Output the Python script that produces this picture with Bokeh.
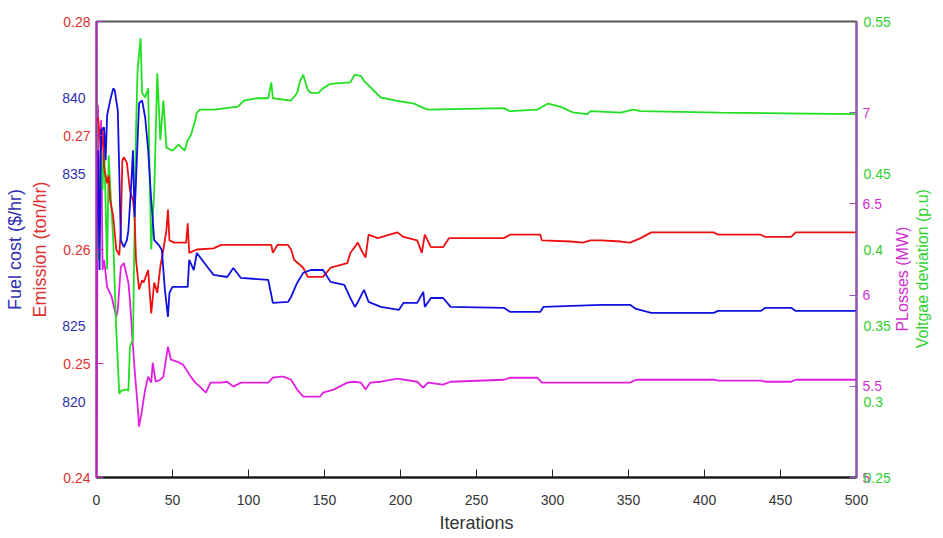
import math
from bokeh.plotting import figure
from bokeh.models import Range1d, LinearAxis, FixedTicker, CustomJSTickFormatter
from bokeh.embed import file_html
from bokeh.resources import INLINE

# ---------------- data ----------------
x_ticks = [0, 50, 100, 150, 200, 250, 300, 350, 400, 450, 500]
emission_ticks = [0.24, 0.25, 0.26, 0.27, 0.28]
fuel_ticks = [820, 825, 835, 840]
ploss_ticks = [5, 5.5, 6, 6.5, 7]
volt_ticks = [0.25, 0.3, 0.35, 0.4, 0.45, 0.55]

volt_it = [0, 1, 3, 4, 5, 7, 8, 9, 11, 13, 15, 16, 20, 21, 22, 24, 26, 27, 29, 30,
           32, 34, 35, 36, 38, 40, 42, 44, 46, 50, 54, 58, 60, 62, 65, 66, 68, 78, 85, 93,
           97, 105, 113, 115, 116, 128, 132, 134, 136, 139, 141, 146, 149, 154, 167, 170, 174, 176, 182, 187,
           197, 209, 213, 218, 268, 272, 290, 297, 305, 314, 323, 325, 345, 353, 358, 410, 500]
volt_val = [0.55, 0.393, 0.465, 0.439, 0.472, 0.387, 0.462, 0.442, 0.406, 0.347,
            0.305, 0.307, 0.308, 0.307, 0.336, 0.341, 0.478, 0.518, 0.539, 0.503,
            0.500, 0.506, 0.446, 0.400, 0.439, 0.516, 0.472, 0.498, 0.467, 0.465,
            0.469, 0.465, 0.472, 0.475, 0.485, 0.490, 0.492, 0.492, 0.493, 0.494,
            0.498, 0.4995, 0.4995, 0.510, 0.4995, 0.498, 0.503, 0.511, 0.515, 0.505,
            0.503, 0.503, 0.506, 0.509, 0.510, 0.515, 0.514, 0.511, 0.505, 0.500,
            0.498, 0.496, 0.494, 0.492, 0.493, 0.491, 0.492, 0.496, 0.494, 0.490,
            0.489, 0.491, 0.490, 0.492, 0.491, 0.490, 0.489]

em_it = [0, 1, 3, 4, 5, 7, 8, 9, 11, 13, 15, 16, 17, 18, 20, 22, 24, 25, 26, 28,
         30, 31, 34, 36, 38, 40, 42, 44, 46, 47, 48, 51, 59, 60, 61, 66, 77, 82, 115, 116,
         119, 126, 128, 130, 136, 139, 149, 154, 165, 167, 172, 174, 177, 179, 185, 198, 202, 211, 214, 216,
         220, 228, 232, 268, 272, 292, 293, 312, 320, 325, 332, 345, 351, 358, 365, 406, 409, 437, 440, 457,
         460, 500]
em_val = [0.2713, 0.2716, 0.2687, 0.2707, 0.2672, 0.2658, 0.2665, 0.2643, 0.2629, 0.2600,
          0.2595, 0.2617, 0.2678, 0.2681, 0.2676, 0.2652, 0.2643, 0.2632, 0.2591, 0.2565,
          0.2573, 0.2571, 0.2582, 0.2544, 0.2571, 0.2562, 0.2585, 0.2600, 0.2617, 0.2635,
          0.2608, 0.2606, 0.2606, 0.2623, 0.2597, 0.2600, 0.2601, 0.2604, 0.2604, 0.2597,
          0.2604, 0.2604, 0.2600, 0.2591, 0.2584, 0.2576, 0.2576, 0.2584, 0.2588, 0.2597,
          0.2606, 0.2600, 0.2593, 0.2613, 0.2610, 0.2615, 0.2611, 0.2608, 0.2597, 0.2613,
          0.2602, 0.2602, 0.2610, 0.2610, 0.2613, 0.2613, 0.2608, 0.2607, 0.2606, 0.2608,
          0.2608, 0.2607, 0.2606, 0.2610, 0.2615, 0.2615, 0.2613, 0.2613, 0.2611, 0.2611,
          0.2615, 0.2615]

fuel_it = [0, 1, 2, 3, 5, 6, 7, 9, 11, 12, 14, 15, 16, 18, 20, 21, 23, 24, 25, 26,
           28, 30, 32, 34, 36, 38, 41, 43, 45, 47, 48, 50, 60, 61, 64, 66, 73, 77, 86, 90,
           95, 113, 115, 116, 126, 128, 132, 136, 141, 149, 154, 163, 167, 170, 172, 176, 179, 187, 199, 202,
           211, 215, 216, 220, 228, 233, 268, 272, 292, 294, 332, 351, 355, 365, 406, 409, 437, 440, 457, 460,
           500]
fuel_val = [829.97, 836.53, 828.65, 837.84, 838.04, 835.87, 838.83, 839.81, 840.60, 840.47,
            839.16, 835.02, 830.62, 830.16, 830.62, 831.28, 834.56, 836.53, 832.13, 834.56,
            839.62, 839.81, 838.70, 836.53, 833.25, 830.62, 830.29, 829.97, 827.34, 825.57,
            827.14, 827.54, 827.54, 829.31, 828.65, 829.77, 828.85, 828.33, 828.19, 828.78,
            828.13, 828.00, 827.01, 826.49, 826.55, 826.88, 827.80, 828.46, 828.65, 828.65,
            827.87, 827.67, 826.81, 826.22, 826.55, 827.34, 826.55, 826.22, 826.03, 826.49,
            826.49, 827.21, 826.22, 826.81, 826.81, 826.22, 826.16, 825.90, 825.90, 826.22,
            826.36, 826.36, 826.09, 825.83, 825.83, 825.96, 825.96, 826.16, 826.16, 825.96,
            825.96]

pl_it = [0, 1, 2, 3, 4, 5, 7, 10, 13, 14, 16, 18, 21, 22, 24, 25, 27, 28, 30, 32,
         34, 36, 37, 39, 42, 44, 47, 49, 53, 57, 62, 65, 68, 72, 75, 82, 86, 90, 95, 113,
         116, 121, 123, 128, 132, 136, 147, 149, 156, 165, 169, 174, 177, 180, 187, 198, 211, 215, 218, 228,
         233, 268, 272, 290, 293, 332, 351, 355, 406, 409, 437, 440, 457, 460, 500]
pl_val = [5.044, 7.041, 6.357, 6.958, 6.138, 6.193, 6.045, 5.990, 5.881, 5.919,
          6.154, 6.176, 6.067, 5.974, 5.717, 5.60, 5.40, 5.279, 5.372, 5.482,
          5.553, 5.520, 5.629, 5.525, 5.536, 5.553, 5.717, 5.646, 5.635, 5.618,
          5.553, 5.520, 5.498, 5.465, 5.520, 5.520, 5.525, 5.498, 5.520, 5.520,
          5.547, 5.553, 5.553, 5.536, 5.482, 5.443, 5.443, 5.465, 5.482, 5.520,
          5.525, 5.520, 5.482, 5.520, 5.525, 5.542, 5.525, 5.492, 5.520, 5.509,
          5.525, 5.536, 5.547, 5.547, 5.520, 5.520, 5.520, 5.536, 5.536, 5.531,
          5.531, 5.525, 5.525, 5.536, 5.536]

titles = {
    "fuel": "Fuel cost ($/hr)",
    "emission": "Emission (ton/hr)",
    "ploss": "PLosses (MW)",
    "volt": "Voltgae deviation (p.u)",
    "x": "Iterations",
}

# ---------------- styles ----------------
FONT = "Liberation Sans"
TICK_SIZE = "14px"
TITLE_SIZE = "18px"
RTITLE_SIZE = "16px"
C_BLUE, C_RED, C_GREEN, C_MAG = "#1010e0", "#ee1010", "#20e020", "#e020e0"
L_BLUE, L_RED, L_GREEN, L_MAG = "#3030b0", "#e03030", "#30d030", "#d030d0"

fmt = CustomJSTickFormatter(code="return tick.toString();")

p = figure(width=943, height=538, output_backend="svg", toolbar_location=None,
           x_range=Range1d(0, 500), y_range=Range1d(0.24, 0.28),
           min_border_left=96, min_border_right=87, min_border_top=21, min_border_bottom=61)
p.extra_y_ranges = {"fuel": Range1d(815, 845), "ploss": Range1d(5, 7.5),
                    "volt": Range1d(0.25, 0.55)}
p.background_fill_color = "white"
p.border_fill_color = "white"
p.outline_line_color = "#555555"
p.outline_line_width = 2
p.xgrid.visible = False
p.ygrid.visible = False


def style_axis(ax, color, label_color, ticks, standoff, line=True):
    ax.ticker = FixedTicker(ticks=ticks)
    ax.formatter = fmt
    ax.minor_tick_line_color = None
    ax.major_tick_out = 0
    ax.major_tick_in = 7 if line else 0
    ax.major_tick_line_color = color if line else None
    ax.axis_line_color = color if line else None
    ax.axis_line_width = 2
    ax.major_label_text_color = label_color
    ax.major_label_text_font = FONT
    ax.major_label_text_font_size = TICK_SIZE
    ax.major_label_standoff = standoff


def axis_title(ax, text, color, standoff):
    ax.axis_label = text
    ax.axis_label_text_color = color
    ax.axis_label_text_font = FONT
    ax.axis_label_text_font_size = TITLE_SIZE
    ax.axis_label_text_font_style = "normal"
    ax.axis_label_standoff = standoff


# x axis
xa = p.xaxis[0]
xa.ticker = FixedTicker(ticks=x_ticks)
xa.minor_tick_line_color = None
xa.major_tick_out = 0
xa.major_tick_in = 8
xa.major_tick_line_color = "#222222"
xa.axis_line_color = "#111111"
xa.axis_line_width = 2
xa.major_label_text_font = FONT
xa.major_label_text_font_size = TICK_SIZE
xa.major_label_text_color = "#333333"
xa.major_label_standoff = 17
axis_title(xa, titles["x"], "#333333", 5)

# left inner: emission
em_axis = p.yaxis[0]
style_axis(em_axis, "#bb22bb", L_RED, emission_ticks, 6)
axis_title(em_axis, titles["emission"], L_RED, 10)
# left outer: fuel cost (labels pulled into the same column)
fuel_axis = LinearAxis(y_range_name="fuel")
p.add_layout(fuel_axis, "left")
style_axis(fuel_axis, L_BLUE, L_BLUE, fuel_ticks, -58, line=False)
axis_title(fuel_axis, titles["fuel"], L_BLUE, 34)

# right inner: power losses
ploss_axis = LinearAxis(y_range_name="ploss")
p.add_layout(ploss_axis, "right")
style_axis(ploss_axis, "#9955bb", L_MAG, ploss_ticks, 6)
# right outer: voltage deviation (labels pulled into the same column)
volt_axis = LinearAxis(y_range_name="volt")
p.add_layout(volt_axis, "right")
style_axis(volt_axis, L_GREEN, L_GREEN, volt_ticks, -21, line=False)


# right-side titles, reading bottom to top; each starts at the given value
def side_title(range_name, start_at, text, color, standoff):
    ax = LinearAxis(y_range_name=range_name)
    p.add_layout(ax, "right")
    ax.ticker = FixedTicker(ticks=[start_at])
    ax.formatter = CustomJSTickFormatter(args=dict(t=text), code="return t;")
    ax.major_label_orientation = math.pi / 2
    ax.axis_line_color = None
    ax.major_tick_line_color = None
    ax.minor_tick_line_color = None
    ax.major_tick_in = 0
    ax.major_tick_out = 0
    ax.major_label_standoff = standoff
    ax.major_label_text_color = color
    ax.major_label_text_font = FONT
    ax.major_label_text_font_size = RTITLE_SIZE
    return ax


side_title("ploss", 5.80, titles["ploss"], L_MAG, 9)
side_title("volt", 0.335, titles["volt"], L_GREEN, 0)

# lines
p.line(pl_it, pl_val, y_range_name="ploss", line_color=C_MAG, line_width=1.8)
p.line(volt_it, volt_val, y_range_name="volt", line_color=C_GREEN, line_width=1.8)
p.line(em_it, em_val, line_color=C_RED, line_width=1.8)
p.line(fuel_it, fuel_val, y_range_name="fuel", line_color=C_BLUE, line_width=1.8)

open("out.html", "w").write(file_html(p, INLINE))
